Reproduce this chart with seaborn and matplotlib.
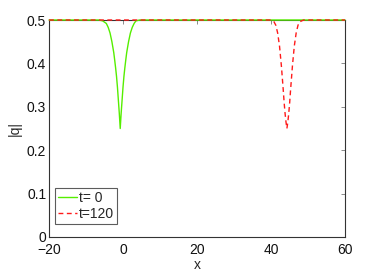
import pandas as pd
import matplotlib
matplotlib.use("Agg")
import matplotlib.pyplot as plt
import seaborn as sns

# t = 0 profile (green): dip centred near x = -0.5
x_t0 = [-20, -7, -6.5, -5.5, -4.5, -4, -3.5, -3, -2.5, -2.25, -2, -1.75, -1.5, -1.25, -1, -0.75,
        -0.5, -0.25, 0, 0.25, 0.5, 0.75, 1, 1.5, 2, 2.5, 3, 3.5, 4.5, 5.5, 20, 40, 60]
y_t0 = [0.5, 0.5, 0.5, 0.498, 0.492, 0.483, 0.47, 0.45, 0.425, 0.408, 0.39, 0.37, 0.345, 0.315, 0.285,
        0.25, 0.285, 0.315, 0.345, 0.37, 0.39, 0.408, 0.425, 0.45, 0.47, 0.483, 0.492, 0.498, 0.5, 0.5, 0.5, 0.5, 0.5]

# t = 120 profile (red dashed): dip centred near x = 44.3
x_t120 = [-20, 0, 20, 38, 39.8, 40.8, 41.3, 41.8, 42.3, 42.8, 43.3, 43.55, 43.8, 44.05,
          44.3, 44.55, 44.8, 45.05, 45.3, 45.8, 46.3, 46.8, 47.3, 47.8, 48.8, 50.5, 60]
y_t120 = [0.5, 0.5, 0.5, 0.5, 0.5, 0.496, 0.488, 0.47, 0.44, 0.395, 0.34, 0.31, 0.285, 0.265,
          0.25, 0.265, 0.285, 0.31, 0.34, 0.395, 0.44, 0.47, 0.488, 0.496, 0.5, 0.5, 0.5]

labels = ["t= 0", "t=120"]
x_ticks = [-20, 0, 20, 40, 60]
y_ticks = [0, 0.1, 0.2, 0.3, 0.4, 0.5]
y_ticklabels = ["0", "0.1", "0.2", "0.3", "0.4", "0.5"]

sns.set_style("white")
plt.rcParams["font.family"] = ["Liberation Sans", "DejaVu Sans"]

fig = plt.figure(figsize=(3.82, 2.73), dpi=100)
ax = fig.add_axes([49/382, 1 - 237/273, (345-49)/382, (237-20)/273])

df0 = pd.DataFrame({"x": x_t0, "y": y_t0})
df1 = pd.DataFrame({"x": x_t120, "y": y_t120})

sns.lineplot(data=df0, x="x", y="y", ax=ax, color="#55ee00", lw=1.0, label=labels[0],
             sort=False, clip_on=False, zorder=5)
sns.lineplot(data=df1, x="x", y="y", ax=ax, color="#ff1a1a", lw=1.0, ls=(0, (3.5, 2.5)),
             label=labels[1], sort=False, clip_on=False, zorder=6)

ax.set_xlim(-20, 60)
ax.set_ylim(0, 0.5)
ax.set_xticks(x_ticks)
ax.set_yticks(y_ticks)
ax.set_yticklabels(y_ticklabels)
ax.tick_params(direction="in", length=3, width=0.6, color="#777777", labelsize=10,
               top=True, right=True, labelcolor="#111111")
ax.tick_params(axis="y", pad=2)
ax.tick_params(axis="x", pad=4)
for s in ax.spines.values():
    s.set_color("#333333")
    s.set_linewidth(0.8)
    s.set_visible(True)
ax.set_xlabel("x", fontsize=10, labelpad=1)
ax.set_ylabel("|q|", fontsize=10, labelpad=4)

leg = ax.legend(loc="lower left", fontsize=10, frameon=True, fancybox=False,
                handlelength=1.4, handletextpad=0.1, borderpad=0.2, labelspacing=0.15,
                borderaxespad=0.0, bbox_to_anchor=(6/296, 13/217))
leg.get_frame().set_edgecolor("#333333")
leg.get_frame().set_linewidth(0.8)

fig.savefig("out.png", dpi=100)
